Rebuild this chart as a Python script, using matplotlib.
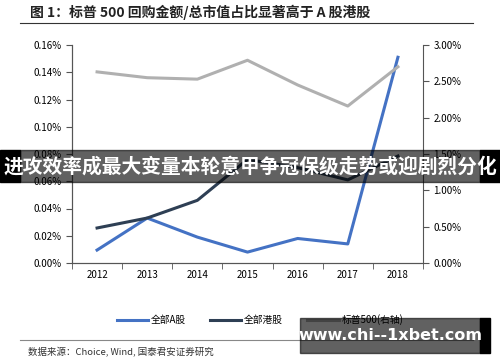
import matplotlib
matplotlib.use("Agg")
import matplotlib.pyplot as plt
from matplotlib.ticker import FuncFormatter
from matplotlib.lines import Line2D
import numpy as np

plt.rcParams['font.family'] = ['Noto Sans CJK SC', 'DejaVu Sans']

years = ["2012", "2013", "2014", "2015", "2016", "2017", "2018"]
a_share = [0.0095, 0.033, 0.019, 0.008, 0.018, 0.014, 0.151]      # % left axis
hk_share = [0.0257, 0.033, 0.046, 0.076, 0.070, 0.061, 0.0785]    # % left axis
sp500 = [2.63, 2.55, 2.53, 2.79, 2.45, 2.16, 2.70]                # % right axis

title = "图 1：标普 500 回购金额/总市值占比显著高于 A 股港股"
source = "数据来源：Choice, Wind, 国泰君安证券研究"
banner = "进攻效率成最大变量本轮意甲争冠保级走势或迎剧烈分化"
site = "www.chi--1xbet.com"

W, H = 500, 362
fig = plt.figure(figsize=(W / 100, H / 100), dpi=100)
ax = fig.add_axes([72 / W, 1 - 263 / H, (423 - 72) / W, (263 - 45) / H])
ax2 = ax.twinx()

x = np.arange(len(years))
ax.plot(x, a_share, color="#4472c4", lw=2.2)
ax.plot(x, hk_share, color="#2e3f54", lw=2.2)
ax2.plot(x, sp500, color="#b0b0b0", lw=2.2)

ax.set_xlim(-0.5, len(years) - 0.5)
ax.set_ylim(0, 0.16)
ax2.set_ylim(0, 3.0)
ax.set_yticks(np.arange(0, 0.161, 0.02))
ax2.set_yticks(np.arange(0, 3.01, 0.5))
ax.yaxis.set_major_formatter(FuncFormatter(lambda v, p: f"{v:.2f}%"))
ax2.yaxis.set_major_formatter(FuncFormatter(lambda v, p: f"{v:.2f}%"))
ax.set_xticks(x)
ax.set_xticklabels(years)
ax.set_xticks(np.arange(-0.5, len(years), 1), minor=True)
ax.tick_params(axis="x", which="major", length=0, labelsize=7, pad=5)
ax.tick_params(axis="x", which="minor", length=4, direction="out", color="#555555")
ax.tick_params(axis="y", labelsize=7, length=4, color="#555555")
ax2.tick_params(axis="y", labelsize=7, length=4, color="#555555")
for a in (ax, ax2):
    a.spines["top"].set_visible(False)
    for s in ("left", "right", "bottom"):
        a.spines[s].set_color("#555555")
ax.spines["right"].set_visible(False)

# title and rules
fig.text(30 / W, 1 - 12 / H, title, fontsize=10, fontweight="bold", va="center", color="#222222")
fig.add_artist(Line2D([20 / W, 473 / W], [1 - 23 / H, 1 - 23 / H], color="#333333", lw=0.8))
fig.add_artist(Line2D([20 / W, 473 / W], [1 - 340 / H, 1 - 340 / H], color="#888888", lw=0.8))
fig.text(28 / W, 1 - 352 / H, source, fontsize=6.8, va="center", color="#333333")

# legend
handles = [Line2D([], [], color="#4472c4", lw=2.2),
           Line2D([], [], color="#2e3f54", lw=2.2),
           Line2D([], [], color="#b0b0b0", lw=2.2)]
fig.legend(handles, ["全部A股", "全部港股", "标普500(右轴)"], loc="center",
           bbox_to_anchor=(0.52, 1 - 320 / H), ncol=3, frameon=False,
           fontsize=7, handlelength=3.2, handletextpad=0.3, columnspacing=2.5)

# overlay banners (semi-transparent, lines show through)
fig.patches.append(plt.Rectangle((0, 1 - 182 / H), 20 / W, 32 / H, transform=fig.transFigure,
                                 color="black", zorder=10))
fig.patches.append(plt.Rectangle((480 / W, 1 - 182 / H), 20 / W, 32 / H, transform=fig.transFigure,
                                 color="black", zorder=10))
fig.patches.append(plt.Rectangle((20 / W, 1 - 182 / H), 460 / W, 32 / H, transform=fig.transFigure,
                                 color="black", alpha=0.62, zorder=11))
fig.text(0.5, 1 - 167 / H, banner, fontsize=14.2, fontweight="bold", color="white",
         ha="center", va="center", zorder=12)
fig.patches.append(plt.Rectangle((480 / W, 1 - 353 / H), 10 / W, 35 / H, transform=fig.transFigure,
                                 color="black", zorder=10))
fig.patches.append(plt.Rectangle((300 / W, 1 - 353 / H), 180 / W, 35 / H, transform=fig.transFigure,
                                 color="black", alpha=0.62, zorder=11))
fig.text(390 / W, 1 - 336 / H, site, fontsize=11.5, fontweight="bold", color="white",
         ha="center", va="center", zorder=12, family=["DejaVu Sans"])

fig.savefig("out.png", dpi=100)
